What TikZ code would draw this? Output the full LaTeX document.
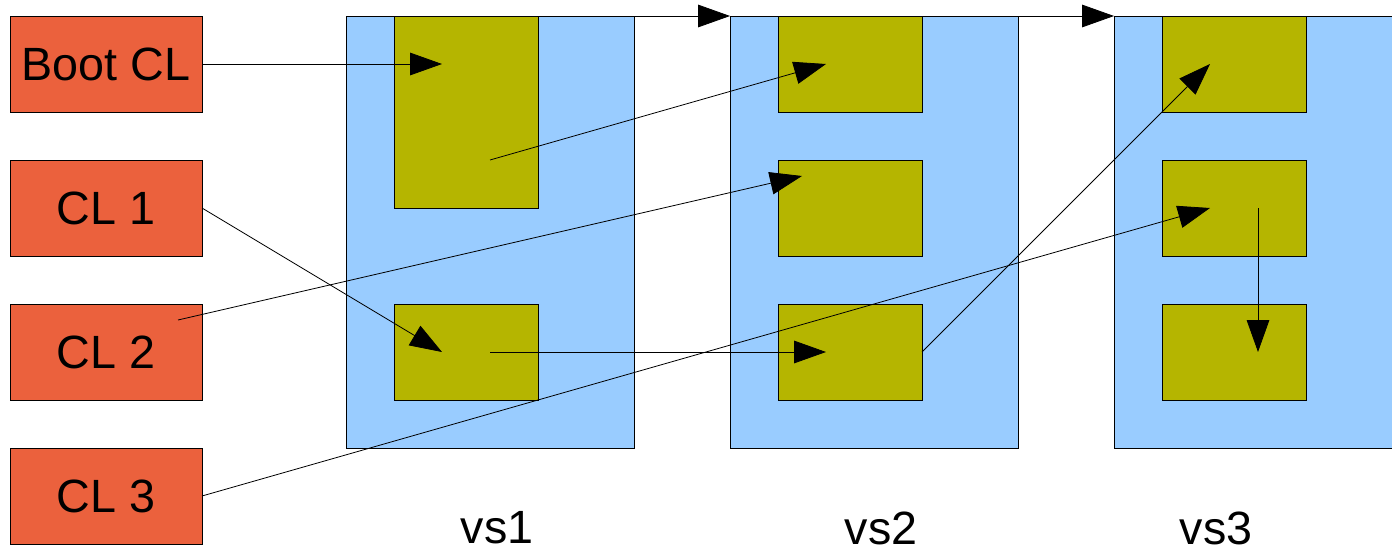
\documentclass[tikz,border=0pt]{standalone}
\usepackage{fontspec}
\setmainfont{Liberation Sans}
\usetikzlibrary{arrows.meta}
\definecolor{clred}{HTML}{EB613D}
\definecolor{vsblue}{HTML}{99CCFF}
\definecolor{olive}{HTML}{B5B500}
\begin{document}
\begin{tikzpicture}[x=0.75pt,y=-0.75pt,
  every node/.style={inner sep=0pt,outer sep=0pt},
  loader/.style={draw=black,line width=0.6pt,fill=clred,minimum width=144pt,minimum height=72pt,
    font=\fontsize{35}{42}\selectfont},
  space/.style={draw=black,line width=0.6pt,fill=vsblue,minimum width=216pt,minimum height=324pt},
  slot/.style={draw=black,line width=0.6pt,fill=olive,minimum width=108pt,minimum height=72pt},
  caption/.style={font=\fontsize{35}{42}\selectfont},
  link/.style={line width=0.6pt,-{Triangle[length=24pt,width=17pt]}}]
\useasboundingbox (0,0) rectangle (1392,553);
% class loaders
\node[loader] (boot) at (106,64) {Boot CL};
\node[loader] (cl1) at (106,208) {CL 1};
\node[loader] (cl2) at (106,352) {CL 2};
\node[loader] (cl3) at (106,496) {CL 3};
% name spaces
\node[space] (vs1) at (490,232) {};
\node[space] (vs2) at (874,232) {};
\node[space] (vs3) at (1258,232) {};
% class slots
\node[slot,minimum height=144pt] (a1) at (466,112) {};
\node[slot] (a2) at (466,352) {};
\node[slot] (b1) at (850,64) {};
\node[slot] (b2) at (850,208) {};
\node[slot] (b3) at (850,352) {};
\node[slot] (c1) at (1234,64) {};
\node[slot] (c2) at (1234,208) {};
\node[slot] (c3) at (1234,352) {};
% labels
\node[caption] (l1) at (497,528) {vs1};
\node[caption] (l2) at (881,528) {vs2};
\node[caption] (l3) at (1216,528) {vs3};
% arrow end points
\coordinate (p1) at (442,64);
\coordinate (p2) at (490,160);
\coordinate (p3) at (826,64);
\coordinate (p4) at (442,352);
\coordinate (p5) at (178,320);
\coordinate (p6) at (802,176);
\coordinate (p7) at (490,352);
\coordinate (p8) at (826,352);
\coordinate (p9) at (1210,64);
\coordinate (p10) at (1210,208);
\coordinate (p11) at (1258,208);
\coordinate (p12) at (1258,352);
% connectors
\draw[link] (vs1.north west) -- (vs2.north west);
\draw[link] (vs2.north west) -- (vs3.north west);
\draw[link] (boot.east) -- (p1);
\draw[link] (p2) -- (p3);
\draw[link] (cl1.east) -- (p4);
\draw[link] (p5) -- (p6);
\draw[link] (p7) -- (p8);
\draw[link] (b3.east) -- (p9);
\draw[link] (cl3.east) -- (p10);
\draw[link] (p11) -- (p12);
\end{tikzpicture}
\end{document}
